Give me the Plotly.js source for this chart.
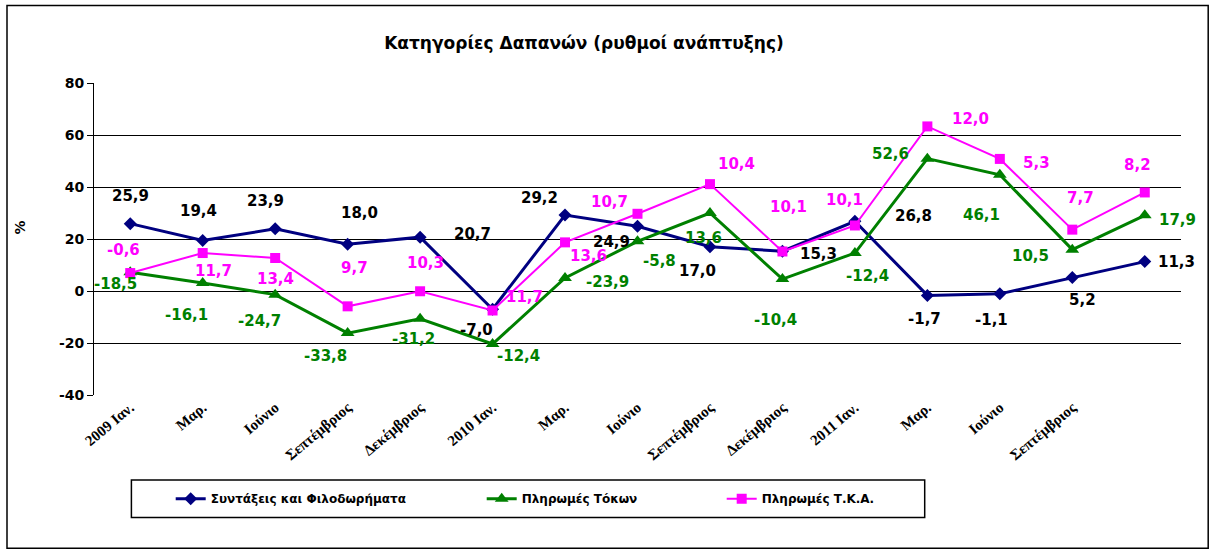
<!DOCTYPE html>
<html>
<head>
<meta charset="utf-8">
<script src="https://cdn.plot.ly/plotly-3.0.1.min.js"></script>
<style>
  html, body { margin: 0; padding: 0; background: #fff; }
  #chart { width: 1212px; height: 550px; }
</style>
</head>
<body>
<div id="chart"></div>
<script>
// ---- Data ----
const categories = ['2009 Ιαν.', 'Μαρ.', 'Ιούνιο', 'Σεπτέμβριος', 'Δεκέμβριος',
                    '2010 Ιαν.', 'Μαρ.', 'Ιούνιο', 'Σεπτέμβριος', 'Δεκέμβριος',
                    '2011 Ιαν.', 'Μαρ.', 'Ιούνιο', 'Σεπτέμβριος', ''];

const seriesNames = ['Συντάξεις και Φιλοδωρήματα', 'Πληρωμές Τόκων', 'Πληρωμές Τ.Κ.Α.'];

const pensions = [25.9, 19.4, 23.9, 18.0, 20.7, -7.0, 29.2, 24.9, 17.0, 15.3, 26.8, -1.7, -1.1, 5.2, 11.3];
const interest = [7.2, 3.1, -1.4, -16.2, -10.7, -20.4, 5.0, 19.1, 30.0, 4.6, 14.6, 50.9, 44.7, 15.9, 29.1];
const tka      = [6.9, 14.6, 12.7, -5.9, -0.1, -7.5, 18.7, 29.7, 41.1, 15.2, 25.2, 63.3, 50.8, 23.6, 37.9];

const pensionsLabels = ['25,9', '19,4', '23,9', '18,0', '20,7', '-7,0', '29,2', '24,9', '17,0', '15,3', '26,8', '-1,7', '-1,1', '5,2', '11,3'];
const interestLabels = ['-18,5', '-16,1', '-24,7', '-33,8', '-31,2', '-12,4', '-23,9', '-5,8', '13,6', '-10,4', '-12,4', '52,6', '46,1', '10,5', '17,9'];
const tkaLabels      = ['-0,6', '11,7', '13,4', '9,7', '10,3', '11,7', '13,6', '10,7', '10,4', '10,1', '10,1', '12,0', '5,3', '7,7', '8,2'];

const yTicks = [-40, -20, 0, 20, 40, 60, 80];

// ---- Style (label pixel offsets from their points: [dx, dy] screen px) ----
const pensionsOffsets = [[0,-28],[-4,-30],[-10,-28],[12,-31],[52,-3],[-16,21],[-26,-17],[-26,16],[-12,24],[36,3],[59,-5],[-3,24],[-8,26],[10,23],[32,0]];
const interestOffsets = [[-15,12],[-16,32],[-16,26],[-22,23],[-7,20],[26,12],[42,4],[22,20],[-6,25],[-7,41],[13,23],[-37,-5],[-18,40],[-42,6],[33,5]];
const tkaOffsets      = [[-7,-23],[11,18],[0,21],[7,-38],[5,-28],[32,-14],[23,14],[-28,-12],[27,-20],[6,-44],[-10,-25],[43,-7],[37,4],[8,-32],[-7,-27]];

const BLUE = '#000080', GREEN = '#008000', PINK = '#FF00FF';
const LABEL_FONT = 'DejaVu Sans, Verdana, sans-serif';

const xIdx = categories.map((c, i) => i);
const boundaries = categories.map((c, i) => i + 0.5);

const traces = [
  {
    name: seriesNames[0], x: xIdx, y: pensions, type: 'scatter', mode: 'lines+markers',
    line: { color: BLUE, width: 3 },
    marker: { symbol: 'diamond', size: 10, color: BLUE },
    legend: 'legend', hoverinfo: 'skip'
  },
  {
    name: seriesNames[1], x: xIdx, y: interest, type: 'scatter', mode: 'lines+markers',
    line: { color: GREEN, width: 3 },
    marker: { symbol: 'triangle-up', size: 12, color: GREEN },
    legend: 'legend2', hoverinfo: 'skip'
  },
  {
    name: seriesNames[2], x: xIdx, y: tka, type: 'scatter', mode: 'lines+markers',
    line: { color: PINK, width: 2 },
    marker: { symbol: 'square', size: 10, color: PINK },
    legend: 'legend3', hoverinfo: 'skip'
  }
];

function makeLabels(values, labels, offsets, color) {
  return values.map((v, i) => ({
    x: xIdx[i], y: v, xref: 'x', yref: 'y', text: labels[i], showarrow: false,
    xanchor: 'center', yanchor: 'middle',
    xshift: offsets[i][0], yshift: -offsets[i][1],
    font: { family: LABEL_FONT, size: 15, color: color, weight: 'bold' }
  }));
}

// plot area geometry: x 94..1181, y 83..395 px
const PL = 94.3, PR = 1181.3, PT = 83.3, PB = 395.3;
const px = v => (v - PL) / (PR - PL);
const py = v => (PB - v) / (PB - PT);

const annotations = [].concat(
  makeLabels(pensions, pensionsLabels, pensionsOffsets, '#000000'),
  makeLabels(interest, interestLabels, interestOffsets, GREEN),
  makeLabels(tka, tkaLabels, tkaOffsets, PINK),
  [{
    xref: 'paper', yref: 'paper', x: px(20), y: py(228), text: '%', textangle: -90, showarrow: false,
    xanchor: 'center', yanchor: 'middle',
    font: { family: LABEL_FONT, size: 14, color: '#000', weight: 'bold' }
  }]
);

const legendFont = { family: LABEL_FONT, size: 12, color: '#000', weight: 'bold' };
const legendBase = { orientation: 'h', xanchor: 'left', yanchor: 'middle', bgcolor: 'rgba(0,0,0,0)', borderwidth: 0, font: legendFont };

const layout = {
  width: 1212, height: 550,
  margin: { l: PL, r: 1212 - PR, t: PT, b: 550 - PB, pad: 0 },
  paper_bgcolor: '#ffffff', plot_bgcolor: '#ffffff',
  showlegend: true,
  title: {
    text: 'Κατηγορίες Δαπανών (ρυθμοί ανάπτυξης)',
    x: 584 / 1212, xref: 'container', xanchor: 'center',
    y: 1 - 43 / 550, yref: 'container', yanchor: 'middle',
    font: { family: LABEL_FONT, size: 17, color: '#000', weight: 'bold' }
  },
  xaxis: {
    range: [-0.5, categories.length - 0.5], autorange: false,
    tickmode: 'array', tickvals: xIdx, ticktext: categories,
    tickangle: -40, ticks: '', showgrid: false, zeroline: false, showline: false,
    tickfont: { family: 'Liberation Serif, Times New Roman, serif', size: 15, color: '#000', weight: 'bold' },
    fixedrange: true
  },
  xaxis2: {
    overlaying: 'x', anchor: 'free', position: 40 / 120, side: 'bottom',
    range: [-0.5, categories.length - 0.5], autorange: false,
    tickmode: 'array', tickvals: boundaries, ticks: 'outside', ticklen: 4, tickwidth: 1, tickcolor: '#000',
    showticklabels: false, showgrid: false, zeroline: false, showline: false, fixedrange: true
  },
  yaxis: {
    range: [-40, 80], autorange: false,
    tickmode: 'array', tickvals: yTicks, ticktext: yTicks.map(String),
    ticks: 'outside', ticklen: 6, tickwidth: 1, tickcolor: '#000',
    showgrid: true, gridcolor: '#000', gridwidth: 1,
    zeroline: true, zerolinecolor: '#000', zerolinewidth: 1,
    showline: true, linecolor: '#000', linewidth: 1,
    tickfont: { family: LABEL_FONT, size: 14, color: '#000', weight: 'bold' },
    fixedrange: true
  },
  legend:  Object.assign({}, legendBase, { x: px(171), y: py(499) }),
  legend2: Object.assign({}, legendBase, { x: px(482), y: py(499) }),
  legend3: Object.assign({}, legendBase, { x: px(722), y: py(499) }),
  shapes: [
    { type: 'rect', xref: 'paper', yref: 'paper', x0: px(131.7), x1: px(925), y0: py(517.7), y1: py(480.3),
      line: { color: '#000', width: 1.5 }, fillcolor: 'rgba(0,0,0,0)', layer: 'above' },
    { type: 'rect', xref: 'paper', yref: 'paper', x0: px(7.3), x1: px(1208.5), y0: py(548.5), y1: py(5.7),
      line: { color: '#000', width: 1.5 }, fillcolor: 'rgba(0,0,0,0)', layer: 'above' }
  ],
  annotations: annotations
};

Plotly.newPlot('chart', traces, layout, { displayModeBar: false, staticPlot: true });
</script>
</body>
</html>
